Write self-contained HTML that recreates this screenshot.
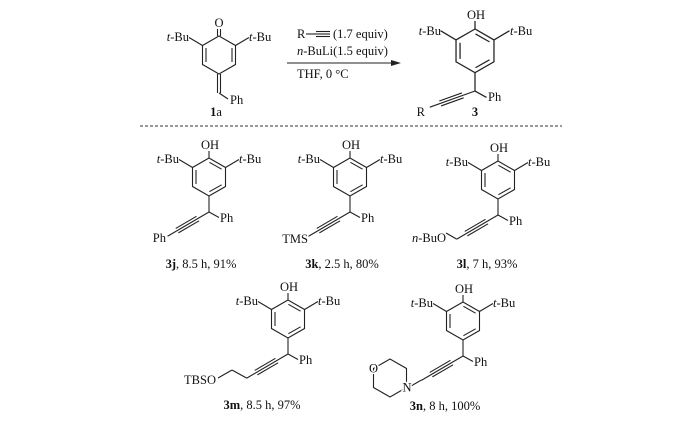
<!DOCTYPE html>
<html><head><meta charset="utf-8"><style>
html,body{margin:0;padding:0;background:#fff;}
svg{display:block;}
text{font-family:"Liberation Serif",serif;font-size:12.5px;fill:#111;}
.l{stroke:#222;stroke-width:1.1;fill:none;}
.h{paint-order:stroke;stroke:#fff;stroke-width:3px;}
</style></head><body>
<svg width="700" height="437" viewBox="0 0 700 437" xmlns="http://www.w3.org/2000/svg">
<defs>
<g id="ring">
  <polygon class="l" points="0,0 -16.5,9.5 -16.5,28.5 0,38 16.5,28.5 16.5,9.5"/>
  <line class="l" x1="-13" y1="12" x2="-13" y2="26"/>
  <line class="l" x1="0.4" y1="4.3" x2="12.6" y2="11.2"/>
  <line class="l" x1="12.6" y1="26.8" x2="0.4" y2="33.7"/>
  <line class="l" x1="0" y1="0" x2="0" y2="-7"/>
  <line class="l" x1="-16.5" y1="9.5" x2="-30" y2="1.5"/>
  <line class="l" x1="16.5" y1="9.5" x2="30" y2="1.5"/>
  <line class="l" x1="0" y1="38" x2="0" y2="54"/>
  <line class="l" x1="0" y1="54" x2="10" y2="59.5"/>
</g>
<g id="phen">
  <use href="#ring"/>
  <text x="1" y="-9" text-anchor="middle">OH</text>
  <text x="-30" y="5" text-anchor="end"><tspan font-style="italic">t</tspan>-Bu</text>
  <text x="30" y="5"><tspan font-style="italic">t</tspan>-Bu</text>
  <text x="11" y="64">Ph</text>
</g>
<g id="alk">
  <line class="l" x1="0" y1="0" x2="48" y2="0"/>
  <line class="l" x1="13" y1="-2.6" x2="37" y2="-2.6"/>
  <line class="l" x1="13" y1="2.6" x2="37" y2="2.6"/>
</g>
</defs>

<!-- reactant 1a -->
<g transform="translate(219,36)">
  <polygon class="l" points="0,0 -16.5,9.5 -16.5,28.5 0,38 16.5,28.5 16.5,9.5"/>
  <line class="l" x1="-13" y1="12" x2="-13" y2="26"/>
  <line class="l" x1="13" y1="12" x2="13" y2="26"/>
  <line class="l" x1="-1.5" y1="0" x2="-1.5" y2="-7"/>
  <line class="l" x1="1.5" y1="0" x2="1.5" y2="-7"/>
  <line class="l" x1="-16.5" y1="9.5" x2="-30" y2="1.5"/>
  <line class="l" x1="16.5" y1="9.5" x2="30" y2="1.5"/>
  <line class="l" x1="-1.5" y1="38" x2="-1.5" y2="57"/>
  <line class="l" x1="1.5" y1="38" x2="1.5" y2="57"/>
  <line class="l" x1="0" y1="57" x2="9" y2="63"/>
  <text x="0" y="-9" text-anchor="middle">O</text>
  <text x="-30" y="5" text-anchor="end"><tspan font-style="italic">t</tspan>-Bu</text>
  <text x="30" y="5"><tspan font-style="italic">t</tspan>-Bu</text>
  <text x="11" y="68">Ph</text>
</g>
<text x="216" y="116" text-anchor="middle"><tspan font-weight="bold">1</tspan>a</text>

<!-- reagents + arrow -->
<text x="297" y="38">R</text>
<line class="l" x1="306" y1="34" x2="316" y2="34"/>
<line class="l" x1="316" y1="31.5" x2="330" y2="31.5"/>
<line class="l" x1="316" y1="34" x2="330" y2="34"/>
<line class="l" x1="316" y1="36.5" x2="330" y2="36.5"/>
<text x="333" y="38">(1.7 equiv)</text>
<text x="297" y="55"><tspan font-style="italic">n</tspan>-BuLi(1.5 equiv)</text>
<line class="l" x1="287" y1="63" x2="396" y2="63"/>
<polygon points="401,63 391,60 391,66" fill="#222"/>
<text x="297" y="78">THF, 0 °C</text>

<!-- product 3 -->
<use href="#ring" transform="translate(475,29) scale(1.15)"/>
<text x="476" y="19" text-anchor="middle">OH</text>
<text x="441" y="35" text-anchor="end"><tspan font-style="italic">t</tspan>-Bu</text>
<text x="510" y="35"><tspan font-style="italic">t</tspan>-Bu</text>
<text x="488" y="101">Ph</text>
<use href="#alk" transform="translate(475,91) rotate(160.3)"/>
<text x="425" y="116" text-anchor="end">R</text>
<text x="475" y="116" text-anchor="middle" font-weight="bold">3</text>

<!-- dashed separator -->
<line x1="140" y1="126" x2="562" y2="126" stroke="#333" stroke-width="1" stroke-dasharray="3,2"/>

<!-- 3j -->
<use href="#phen" transform="translate(209,158)"/>
<use href="#alk" transform="translate(209,212) rotate(149.7)"/>
<text x="166" y="242" text-anchor="end">Ph</text>
<text x="201" y="268" text-anchor="middle"><tspan font-weight="bold">3j</tspan>, 8.5 h, 91%</text>

<!-- 3k -->
<use href="#phen" transform="translate(350,158)"/>
<use href="#alk" transform="translate(350,212) rotate(149.7)"/>
<text x="308" y="243" text-anchor="end">TMS</text>
<text x="342" y="268" text-anchor="middle"><tspan font-weight="bold">3k</tspan>, 2.5 h, 80%</text>

<!-- 3l -->
<use href="#phen" transform="translate(498,161)"/>
<use href="#alk" transform="translate(498,215) rotate(149.7)"/>
<line class="l" x1="456.5" y1="239" x2="446" y2="233"/>
<text x="446" y="242" text-anchor="end"><tspan font-style="italic">n</tspan>-BuO</text>
<text x="487" y="268" text-anchor="middle"><tspan font-weight="bold">3l</tspan>, 7 h, 93%</text>

<!-- 3m -->
<use href="#phen" transform="translate(288,300)"/>
<use href="#alk" transform="translate(288,354) rotate(149.7)"/>
<line class="l" x1="246.5" y1="378" x2="232" y2="370"/>
<line class="l" x1="232" y1="370" x2="218" y2="378"/>
<text x="216" y="384" text-anchor="end">TBSO</text>
<text x="262" y="409" text-anchor="middle"><tspan font-weight="bold">3m</tspan>, 8.5 h, 97%</text>

<!-- 3n -->
<use href="#phen" transform="translate(463,302)"/>
<use href="#alk" transform="translate(463,356) rotate(149.7)"/>
<line class="l" x1="421.5" y1="380" x2="411" y2="386"/>
<polygon class="l" points="406.5,387.5 390,397 373.5,387.5 373.5,368.5 390,359 406.5,368.5"/>
<text class="h" x="373.5" y="372.5" text-anchor="middle">O</text>
<text class="h" x="407" y="391.5" text-anchor="middle">N</text>
<text x="445" y="410" text-anchor="middle"><tspan font-weight="bold">3n</tspan>, 8 h, 100%</text>
</svg>
</body></html>
